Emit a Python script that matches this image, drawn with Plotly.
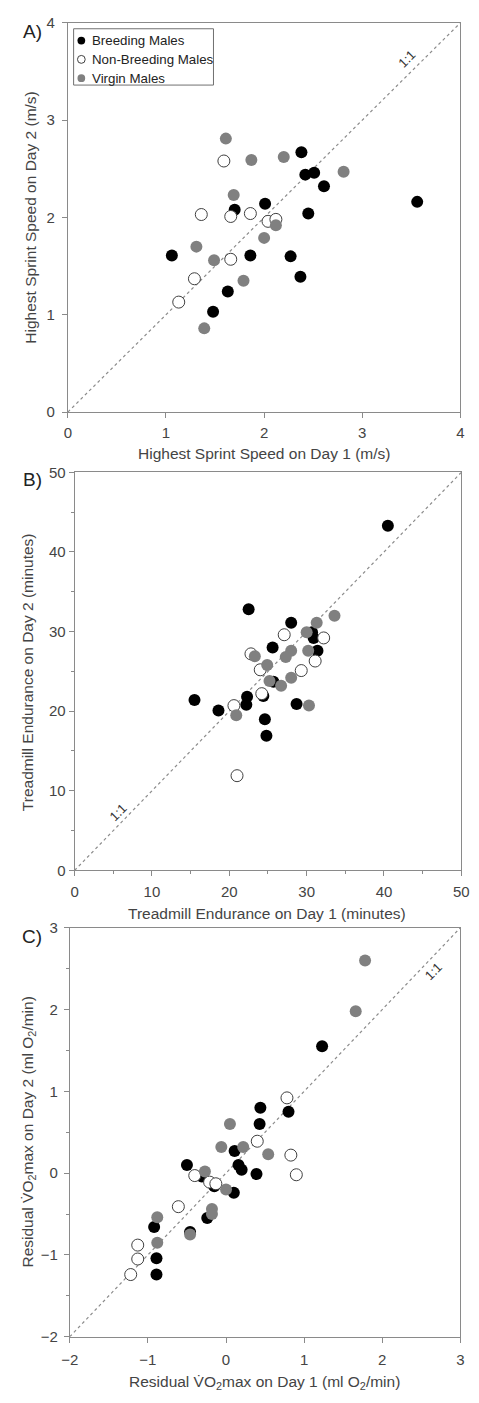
import plotly.graph_objects as go

W, H = 479, 1403

# ---------------- Data ----------------
# Panel A: Highest sprint speed (m/s)
a_breed_x = [2.38, 2.42, 2.51, 2.61, 3.56, 2.45, 2.01, 1.70, 1.06, 1.86, 2.27, 2.37, 1.63, 1.48]
a_breed_y = [2.67, 2.44, 2.46, 2.32, 2.16, 2.04, 2.14, 2.08, 1.61, 1.61, 1.60, 1.39, 1.24, 1.03]
a_nonb_x = [1.59, 1.36, 1.66, 1.86, 2.04, 2.12, 1.66, 1.29, 1.13]
a_nonb_y = [2.58, 2.03, 2.01, 2.04, 1.96, 1.98, 1.57, 1.37, 1.13]
a_virg_x = [1.61, 1.87, 2.20, 2.81, 1.69, 2.12, 2.00, 1.31, 1.49, 1.79, 1.39]
a_virg_y = [2.81, 2.59, 2.62, 2.47, 2.23, 1.92, 1.79, 1.70, 1.56, 1.35, 0.86]

# Panel B: Treadmill endurance (minutes)
b_breed_x = [40.5, 22.5, 28.0, 30.7, 30.9, 31.4, 25.6, 25.7, 15.5, 18.6, 22.3, 22.2, 24.4, 24.6, 24.8, 28.7]
b_breed_y = [43.3, 32.8, 31.1, 29.9, 29.2, 27.6, 28.0, 23.7, 21.4, 20.1, 21.8, 20.8, 21.9, 19.0, 16.9, 20.9]
b_nonb_x = [27.1, 32.2, 22.8, 24.0, 29.3, 31.1, 24.2, 20.6, 21.0]
b_nonb_y = [29.6, 29.2, 27.2, 25.2, 25.1, 26.3, 22.2, 20.7, 11.9]
b_virg_x = [33.6, 31.3, 30.0, 28.0, 27.3, 23.3, 30.2, 24.9, 25.2, 26.7, 28.0, 20.9, 30.3]
b_virg_y = [32.0, 31.1, 29.9, 27.6, 26.8, 26.9, 27.6, 25.8, 23.8, 23.2, 24.2, 19.5, 20.7]

# Panel C: Residual VO2max (ml O2/min)
c_breed_x = [1.23, 0.44, 0.43, 0.80, 0.11, 0.16, 0.20, -0.50, -0.31, 0.39, 0.10, -0.15, -0.24, -0.92, -0.46, -0.89, -0.89]
c_breed_y = [1.55, 0.80, 0.60, 0.75, 0.27, 0.10, 0.04, 0.10, -0.04, -0.01, -0.24, -0.16, -0.55, -0.66, -0.72, -1.04, -1.24]
c_nonb_x = [0.78, 0.40, 0.83, 0.90, -0.40, -0.21, -0.13, -0.61, -1.13, -1.13, -1.22]
c_nonb_y = [0.92, 0.39, 0.22, -0.02, -0.03, -0.11, -0.13, -0.41, -0.88, -1.05, -1.24]
c_virg_x = [1.78, 1.66, 0.05, -0.06, 0.22, 0.54, -0.27, 0.00, -0.88, -0.18, -0.18, -0.88, -0.46]
c_virg_y = [2.60, 1.98, 0.60, 0.32, 0.32, 0.23, 0.02, -0.20, -0.54, -0.44, -0.50, -0.85, -0.75]

groups = ["Breeding Males", "Non-Breeding Males", "Virgin Males"]
ranges = {"A": [0, 4], "B": [0, 50], "C": [-2, 3]}

# ---------------- Styling ----------------
FONT = "Arial, Liberation Sans, sans-serif"
AX = "#8a8a8a"
TXT = "#444444"
fills = {"Breeding Males": "#000000", "Non-Breeding Males": "#ffffff", "Virgin Males": "#808080"}
edges = {"Breeding Males": "#000000", "Non-Breeding Males": "#404040", "Virgin Males": "#808080"}
edge_w = {"Breeding Males": 0, "Non-Breeding Males": 1, "Virgin Males": 0}

def px_x(p):
    return p / W

def px_y(p):
    return 1 - p / H

# plot-area pixel boxes (left, right, top, bottom)
boxes = {
    "A": (61, 468, 14, 408),
    "B": (68, 469, 469, 872),
    "C": (63, 468, 930, 1344),
}

fig = go.Figure()

panels = [
    ("A", "x", "y", [(a_breed_x, a_breed_y), (a_nonb_x, a_nonb_y), (a_virg_x, a_virg_y)]),
    ("B", "x2", "y2", [(b_breed_x, b_breed_y), (b_nonb_x, b_nonb_y), (b_virg_x, b_virg_y)]),
    ("C", "x3", "y3", [(c_breed_x, c_breed_y), (c_nonb_x, c_nonb_y), (c_virg_x, c_virg_y)]),
]

for key, xa, ya, series in panels:
    r = ranges[key]
    fig.add_trace(go.Scatter(x=r, y=r, mode="lines", xaxis=xa, yaxis=ya,
                             line=dict(color="#8c8c8c", width=1.2, dash="dot"),
                             showlegend=False, hoverinfo="skip"))
    for g, (xs, ys) in zip(groups, series):
        fig.add_trace(go.Scatter(x=xs, y=ys, mode="markers", xaxis=xa, yaxis=ya,
                                 marker=dict(size=12, color=fills[g],
                                             line=dict(color=edges[g], width=edge_w[g])),
                                 name=g, showlegend=False))

def axis(domain, rng, dtick, minor=None, anchor=None, standoff=0):
    d = dict(domain=domain, range=rng, dtick=dtick, tick0=rng[0],
             showgrid=False, zeroline=False, showline=True, linecolor=AX, linewidth=1,
             mirror=True, ticks="outside", ticklen=5, tickcolor=AX, tickwidth=1,
             tickfont=dict(family=FONT, size=15, color=TXT), anchor=anchor,
             ticklabelstandoff=standoff, fixedrange=True)
    if minor is not None:
        d["minor"] = dict(dtick=minor, ticks="outside", ticklen=3, tickcolor=AX, tickwidth=1, showgrid=False)
    return d

layout_axes = {}
names = {"A": ("xaxis", "yaxis", "x", "y"), "B": ("xaxis2", "yaxis2", "x2", "y2"), "C": ("xaxis3", "yaxis3", "x3", "y3")}
dticks = {"A": (1, None), "B": (10, 5), "C": (1, 0.5)}
ystand = {"A": 4, "B": 0, "C": 3}
xstand = {"A": 2, "B": 3, "C": 4}
for key, (xn, yn, xr, yr) in names.items():
    l, rr, t, b = boxes[key]
    dt, mn = dticks[key]
    layout_axes[xn] = axis([px_x(l), px_x(rr)], ranges[key], dt, mn if key == "B" else None,
                           anchor=yr, standoff=xstand[key])
    layout_axes[yn] = axis([px_y(b), px_y(t)], ranges[key], dt, mn, anchor=xr, standoff=ystand[key])

fig.update_layout(
    width=W, height=H, margin=dict(l=0, r=0, t=0, b=0),
    paper_bgcolor="white", plot_bgcolor="white",
    font=dict(family=FONT, color=TXT),
    showlegend=False,
    **layout_axes,
)

ann = []
def txt(x, y, s, size=15.5, angle=0, color=TXT, xanchor="center"):
    ann.append(dict(x=x, y=y, xref="paper", yref="paper", text=s, showarrow=False,
                    textangle=angle, font=dict(family=FONT, size=size, color=color),
                    xanchor=xanchor, yanchor="middle"))

# panel labels
txt(px_x(24), px_y(23), "A)", size=19, color="#222222")
txt(px_x(24), px_y(476), "B)", size=19, color="#222222")
txt(px_x(24), px_y(939), "C)", size=19, color="#222222")

# axis titles
txt(px_x(264), px_y(450), "Highest Sprint Speed on Day 1 (m/s)")
txt(px_x(22), px_y(211), "Highest Sprint Speed on Day 2 (m/s)", angle=-90)
txt(px_x(268), px_y(916), "Treadmill Endurance on Day 1 (minutes)")
txt(px_x(20), px_y(671), "Treadmill Endurance on Day 2 (minutes)", angle=-90)
txt(px_x(265), px_y(1390), "Residual V\u0307O<sub>2</sub>max on Day 1 (ml O<sub>2</sub>/min)")
txt(px_x(20), px_y(1137), "Residual V\u0307O<sub>2</sub>max on Day 2 (ml O<sub>2</sub>/min)", angle=-90)

# 1:1 labels in data coordinates
for xr, yr, x, y in [("x", "y", 3.46, 3.63), ("x2", "y2", 5.6, 7.3), ("x3", "y3", 2.65, 2.47)]:
    ann.append(dict(x=x, y=y, xref=xr, yref=yr, text="1:1", showarrow=False, textangle=-45,
                    font=dict(family=FONT, size=13, color="#333333")))

# legend box (panel A, top-left)
shapes = [dict(type="rect", xref="paper", yref="paper", x0=px_x(67), x1=px_x(212),
               y0=px_y(77), y1=px_y(20), line=dict(color="#707070", width=1), fillcolor="white",
               layer="below")]
leg_rows = [32, 51, 70]
for g, yy in zip(groups, leg_rows):
    r = 4
    shapes.append(dict(type="circle", xref="paper", yref="paper",
                       x0=px_x(75 - r), x1=px_x(75 + r), y0=px_y(yy + r), y1=px_y(yy - r),
                       fillcolor=fills[g], line=dict(color=edges[g], width=max(edge_w[g], 0.01))))
    txt(px_x(84), px_y(yy), g, size=13.3, color="#222222", xanchor="left")

fig.update_layout(annotations=ann, shapes=shapes)
fig.write_html("out.html")
